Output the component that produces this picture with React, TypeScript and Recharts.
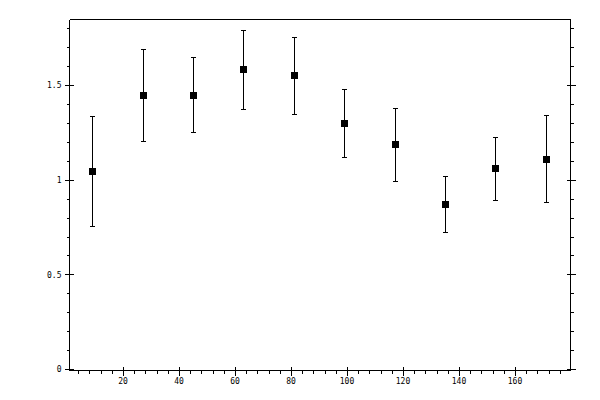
import React from 'react';
import { ScatterChart, Scatter, XAxis, YAxis, ErrorBar } from 'recharts';

const xValues = [9, 27, 45, 63, 81, 99, 117, 135, 153, 171];
const yValues = [1.047, 1.448, 1.448, 1.586, 1.554, 1.3, 1.189, 0.873, 1.063, 1.11];
const yLower = [0.756, 1.205, 1.253, 1.374, 1.348, 1.121, 0.994, 0.725, 0.894, 0.883];
const yUpper = [1.335, 1.689, 1.649, 1.789, 1.755, 1.478, 1.377, 1.018, 1.226, 1.343];

const xMajorTicks = [20, 40, 60, 80, 100, 120, 140, 160];
const xAllTicks = [
  4, 8, 12, 16, 20, 24, 28, 32, 36, 40, 44, 48, 52, 56, 60, 64, 68, 72, 76, 80, 84, 88,
  92, 96, 100, 104, 108, 112, 116, 120, 124, 128, 132, 136, 140, 144, 148, 152, 156,
  160, 164, 168, 172, 176,
];
const yMajorTicks = [0, 0.5, 1, 1.5];
const yAllTicks = [0, 0.1, 0.2, 0.3, 0.4, 0.5, 0.6, 0.7, 0.8, 0.9, 1, 1.1, 1.2, 1.3, 1.4, 1.5, 1.6, 1.7, 1.8];

const xDomain = [0.71, 179.64];
const yDomain = [-0.005, 1.849];

const data = xValues.map((x, i) => ({
  x,
  y: yValues[i],
  err: [yValues[i] - yLower[i], yUpper[i] - yValues[i]],
}));

const FONT = '"DejaVu Sans Mono", monospace';

const isMajor = (list: number[], v: number) => list.some((m) => Math.abs(m - v) < 1e-6);

const makeTick = (side: 'bottom' | 'top' | 'left' | 'right') => (props: any) => {
  const { x, y, payload } = props;
  const v = payload.value;
  const horizontal = side === 'bottom' || side === 'top';
  const major = isMajor(horizontal ? xMajorTicks : yMajorTicks, v);
  let line;
  let label = null;
  if (side === 'bottom') {
    line = major ? [x, y - 4, x, y + 5] : [x, y, x, y + 3];
    if (major) {
      label = (
        <text x={x - 0.5} y={y + 13} textAnchor="middle" fontFamily={FONT} fontSize={8} fill="#000">
          {String(v)}
        </text>
      );
    }
  } else if (side === 'top') {
    line = major ? [x, y - 5, x, y + 4] : [x, y - 3, x, y];
  } else if (side === 'left') {
    line = major ? [x - 5, y, x + 4, y] : [x - 3, y, x, y];
    if (major) {
      label = (
        <text x={x - 8} y={y + 2.7} textAnchor="end" fontFamily={FONT} fontSize={8} fill="#000">
          {String(v)}
        </text>
      );
    }
  } else {
    line = major ? [x - 4, y, x + 5, y] : [x, y, x + 3, y];
  }
  return (
    <g>
      <line
        x1={line[0]}
        y1={line[1]}
        x2={line[2]}
        y2={line[3]}
        stroke="#000"
        strokeWidth={1}
        shapeRendering="crispEdges"
      />
      {label}
    </g>
  );
};

const SquareMarker = (props: any) => {
  const { cx, cy } = props;
  return <rect x={cx - 3.5} y={cy - 3.5} width={7} height={7} fill="#000" shapeRendering="crispEdges" />;
};

const axisLine = { stroke: '#000', strokeWidth: 1, shapeRendering: 'crispEdges' };

const css =
  '.recharts-wrapper line, .recharts-wrapper rect, .recharts-wrapper path { shape-rendering: crispEdges; }';

export default function App() {
  return (
    <div style={{ position: 'absolute', left: 0, top: 0, width: 600, height: 400, background: '#fff' }}>
      <style>{css}</style>
      <ScatterChart width={600} height={400} margin={{ top: 9.5, right: 19.5, bottom: 9.5, left: 9.5 }}>
        <XAxis
          xAxisId="bottom"
          dataKey="x"
          type="number"
          orientation="bottom"
          domain={xDomain}
          allowDataOverflow
          ticks={xAllTicks}
          interval={0}
          height={20}
          tickSize={0}
          tickMargin={0}
          tickLine={false}
          axisLine={axisLine}
          tick={makeTick('bottom')}
        />
        <XAxis
          xAxisId="top"
          type="number"
          orientation="top"
          domain={xDomain}
          allowDataOverflow
          ticks={xAllTicks}
          interval={0}
          height={10}
          tickSize={0}
          tickMargin={0}
          tickLine={false}
          axisLine={axisLine}
          tick={makeTick('top')}
        />
        <YAxis
          yAxisId="left"
          dataKey="y"
          type="number"
          orientation="left"
          domain={yDomain}
          allowDataOverflow
          ticks={yAllTicks}
          interval={0}
          width={60}
          tickSize={0}
          tickMargin={0}
          tickLine={false}
          axisLine={axisLine}
          tick={makeTick('left')}
        />
        <YAxis
          yAxisId="right"
          type="number"
          orientation="right"
          domain={yDomain}
          allowDataOverflow
          ticks={yAllTicks}
          interval={0}
          width={10}
          tickSize={0}
          tickMargin={0}
          tickLine={false}
          axisLine={axisLine}
          tick={makeTick('right')}
        />
        <Scatter
          data={data}
          xAxisId="bottom"
          yAxisId="left"
          dataKey="y"
          fill="#000"
          shape={<SquareMarker />}
          isAnimationActive={false}
        >
          <ErrorBar
            dataKey="err"
            direction="y"
            width={2.5}
            stroke="#000"
            strokeWidth={1}
            isAnimationActive={false}
          />
        </Scatter>
      </ScatterChart>
    </div>
  );
}
